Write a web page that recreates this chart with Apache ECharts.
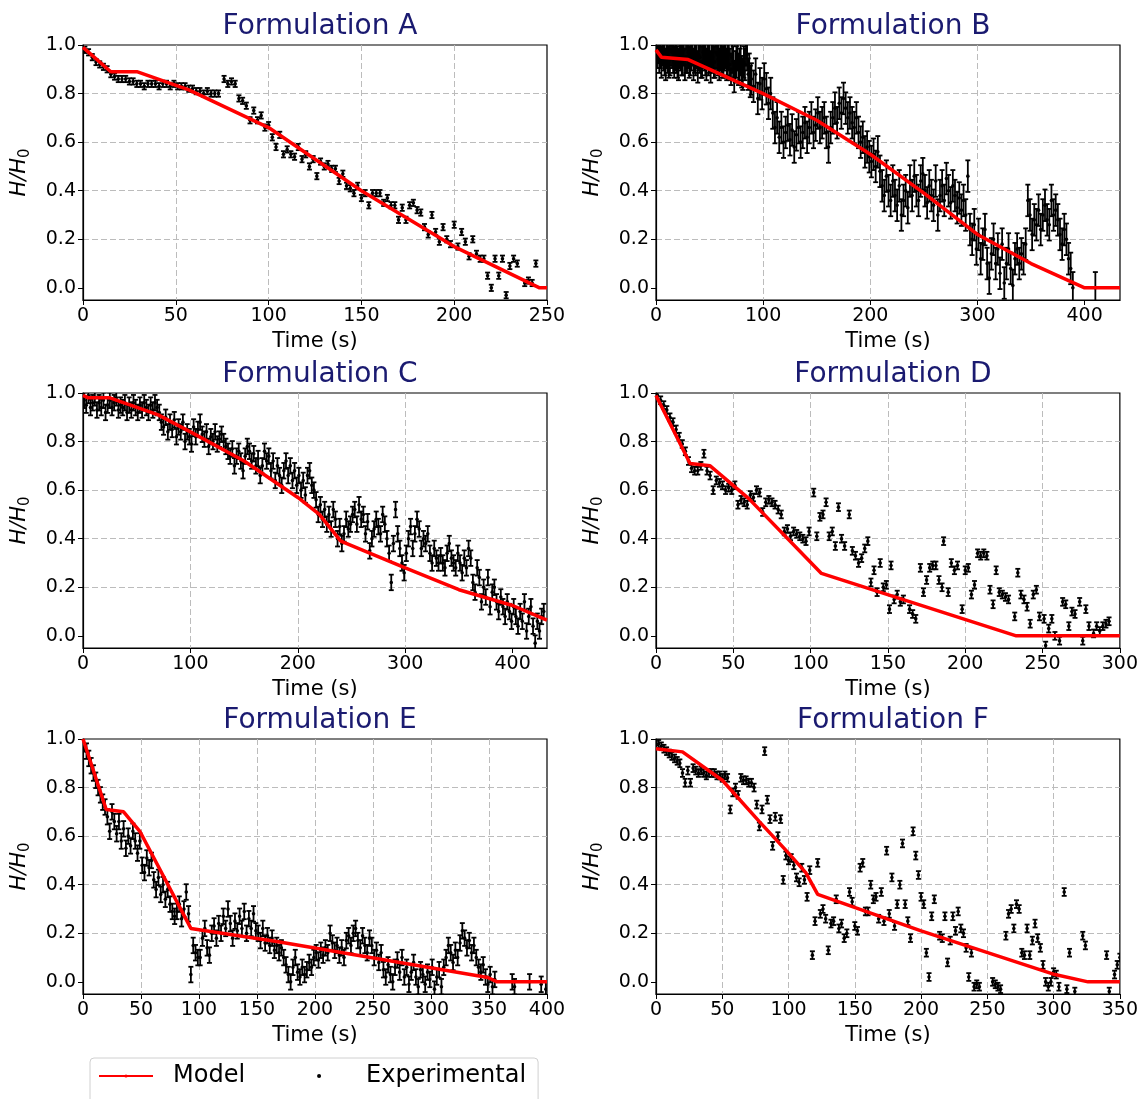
<!DOCTYPE html>
<html>
<head>
<meta charset="utf-8">
<script src="https://cdn.jsdelivr.net/npm/echarts@6/dist/echarts.min.js"></script>
<style>
  html, body { margin: 0; padding: 0; background: #fff; }
  #chart { width: 1141px; height: 1099px; }
</style>
</head>
<body>
<div id="chart"></div>
<script>
// panel titles
const titles = ['Formulation A', 'Formulation B', 'Formulation C', 'Formulation D', 'Formulation E', 'Formulation F']

// x axis range + tick labels for each panel
const xMaxes = [250, 433, 432, 300, 400, 350]
const xTicksA = [0, 50, 100, 150, 200, 250]
const xTicksB = [0, 100, 200, 300, 400]
const xTicksC = [0, 100, 200, 300, 400]
const xTicksD = [0, 50, 100, 150, 200, 250, 300]
const xTicksE = [0, 50, 100, 150, 200, 250, 300, 350, 400]
const xTicksF = [0, 50, 100, 150, 200, 250, 300, 350]
const yTicks = [0, 0.2, 0.4, 0.6, 0.8, 1.0]

// half length of error bars (H/H0) per panel
const errHalf = [0.013, 0.065, 0.032, 0.016, 0.032, 0.016]

// model curves [t, H/H0]
const modelA = [[0, 0.99], [15, 0.89], [29, 0.89], [57, 0.815], [100, 0.66], [150, 0.40], [200, 0.17], [246, 0.0], [250, 0.0]]
const modelB = [[0, 0.98], [5, 0.95], [30, 0.94], [60, 0.88], [100, 0.80], [150, 0.69], [200, 0.55], [250, 0.39], [300, 0.22], [350, 0.10], [400, 0.0], [433, 0.0]]
const modelC = [[0, 0.99], [5, 0.98], [25, 0.98], [70, 0.91], [100, 0.84], [150, 0.72], [200, 0.57], [220, 0.50], [240, 0.39], [300, 0.28], [350, 0.19], [400, 0.125], [432, 0.065]]
const modelD = [[0, 0.99], [22, 0.71], [35, 0.70], [60, 0.565], [107, 0.257], [233, 0.0], [300, 0.0]]
const modelE = [[0, 1.0], [20, 0.71], [35, 0.70], [49, 0.62], [93, 0.22], [167, 0.166], [349, 0.018], [357, 0.0], [400, 0.0]]
const modelF = [[0, 0.96], [20, 0.947], [50, 0.83], [78, 0.66], [100, 0.53], [113, 0.45], [122, 0.36], [200, 0.21], [301, 0.03], [326, 0.0], [350, 0.0]]

// experimental points [t, H/H0]
const expA = [[1,0.98],[3,0.97],[5,0.95],[7,0.93],[9,0.92],[11,0.91],[13,0.90],[15,0.88],[17,0.87],[19,0.86],[21,0.86],[23,0.86],[25,0.85],[27,0.85],[29,0.84],[31,0.84],[33,0.83],[35,0.84],[37,0.84],[39,0.84],[41,0.83],[43,0.84],[45,0.84],[47,0.83],[49,0.84],[51,0.83],[53,0.83],[55,0.83],[57,0.82],[59,0.82],[61,0.81],[63,0.81],[65,0.80],[67,0.81],[69,0.80],[71,0.80],[73,0.80],[76,0.86],[78,0.84],[80,0.85],[82,0.84],[84,0.78],[86,0.77],[88,0.75],[90,0.69],[92,0.73],[94,0.69],[96,0.71],[98,0.66],[100,0.67],[102,0.62],[104,0.58],[106,0.63],[108,0.55],[110,0.57],[112,0.55],[114,0.54],[116,0.58],[118,0.53],[120,0.55],[122,0.50],[124,0.53],[126,0.46],[128,0.52],[130,0.50],[132,0.51],[134,0.49],[136,0.49],[138,0.44],[140,0.47],[142,0.42],[144,0.41],[146,0.39],[148,0.42],[150,0.37],[152,0.39],[154,0.34],[156,0.39],[158,0.39],[160,0.39],[162,0.35],[164,0.37],[166,0.34],[168,0.34],[170,0.28],[172,0.33],[174,0.28],[176,0.34],[178,0.35],[180,0.32],[182,0.31],[184,0.25],[186,0.22],[188,0.30],[190,0.23],[192,0.19],[194,0.25],[196,0.20],[198,0.18],[200,0.26],[202,0.17],[204,0.23],[206,0.19],[208,0.13],[210,0.20],[212,0.14],[214,0.12],[216,0.12],[218,0.05],[220,0.00],[222,0.12],[224,0.05],[226,0.12],[228,-0.03],[230,0.09],[232,0.12],[234,0.10],[238,0.02],[240,0.03],[242,0.02],[244,0.10]]
const expB = [[1,0.97],[2,0.99],[3,0.95],[4,0.97],[5,0.93],[6,0.98],[7,0.96],[8,0.94],[9,0.92],[10,0.97],[11,0.95],[12,0.93],[13,0.94],[14,0.98],[15,0.97],[16,0.95],[17,0.93],[18,0.96],[19,0.95],[20,0.93],[21,0.92],[22,0.97],[23,0.96],[24,0.94],[25,0.94],[26,0.98],[27,0.92],[28,0.95],[29,0.95],[30,0.97],[31,0.93],[32,0.94],[33,0.96],[34,0.98],[35,0.92],[36,0.95],[37,0.94],[38,0.97],[39,0.91],[40,0.96],[41,0.95],[42,0.93],[43,0.93],[44,0.97],[45,0.96],[46,0.94],[47,0.92],[48,0.97],[49,0.94],[50,0.95],[51,0.91],[52,0.96],[53,0.95],[54,0.93],[55,0.93],[56,0.97],[57,0.96],[58,0.94],[59,0.92],[60,0.96],[61,0.95],[62,0.93],[63,0.93],[64,0.96],[65,0.97],[66,0.92],[67,0.94],[68,0.96],[69,0.92],[70,0.90],[71,0.95],[72,0.93],[73,0.87],[74,0.91],[75,0.93],[76,0.96],[77,0.90],[78,0.92],[79,0.94],[80,0.89],[81,0.88],[82,0.93],[83,0.92],[84,0.98],[85,0.96],[86,0.88],[87,0.90],[88,0.85],[89,0.86],[91,0.83],[93,0.88],[95,0.78],[97,0.84],[99,0.80],[101,0.86],[103,0.82],[105,0.76],[107,0.80],[109,0.72],[111,0.66],[113,0.70],[115,0.62],[117,0.66],[119,0.60],[121,0.64],[123,0.67],[125,0.61],[127,0.65],[129,0.58],[131,0.63],[133,0.66],[135,0.60],[137,0.64],[139,0.68],[141,0.62],[143,0.66],[145,0.70],[147,0.64],[149,0.67],[151,0.72],[153,0.66],[155,0.68],[157,0.70],[159,0.64],[161,0.58],[163,0.66],[165,0.70],[167,0.74],[169,0.68],[171,0.76],[173,0.72],[175,0.78],[177,0.74],[179,0.70],[181,0.72],[183,0.68],[185,0.66],[187,0.70],[189,0.64],[191,0.60],[193,0.62],[195,0.56],[197,0.58],[199,0.54],[201,0.52],[203,0.55],[205,0.50],[207,0.56],[209,0.48],[211,0.42],[213,0.38],[215,0.46],[217,0.40],[219,0.36],[221,0.44],[223,0.38],[225,0.34],[227,0.42],[229,0.30],[231,0.36],[233,0.40],[235,0.33],[237,0.44],[239,0.38],[241,0.46],[243,0.40],[245,0.36],[247,0.44],[249,0.47],[251,0.40],[253,0.35],[255,0.42],[257,0.38],[259,0.34],[261,0.44],[263,0.30],[265,0.38],[267,0.42],[269,0.36],[271,0.45],[273,0.40],[275,0.35],[277,0.42],[279,0.38],[281,0.33],[283,0.37],[285,0.32],[287,0.36],[289,0.30],[291,0.46],[293,0.24],[295,0.20],[297,0.26],[299,0.16],[301,0.22],[303,0.12],[305,0.18],[307,0.24],[309,0.10],[311,0.04],[313,0.14],[315,0.20],[317,0.10],[319,0.16],[321,0.06],[323,0.18],[325,0.02],[327,0.10],[329,0.16],[331,0.08],[333,0.01],[335,0.12],[337,0.16],[339,0.10],[341,0.14],[343,0.12],[345,0.18],[347,0.36],[349,0.30],[351,0.22],[353,0.28],[355,0.26],[357,0.32],[359,0.24],[361,0.30],[363,0.34],[365,0.28],[367,0.26],[369,0.36],[371,0.30],[373,0.32],[375,0.28],[377,0.22],[379,0.18],[381,0.24],[383,0.20],[385,0.12],[387,0.08],[389,0.0],[410,0.0]]
const expC = [[1,0.97],[3,0.95],[5,0.99],[7,0.94],[9,0.96],[11,0.98],[13,0.93],[15,0.96],[17,0.94],[19,0.97],[21,0.92],[23,0.95],[25,0.97],[27,0.94],[29,0.96],[31,0.98],[33,0.93],[35,0.95],[37,0.94],[39,0.96],[41,0.92],[43,0.95],[45,0.93],[47,0.96],[49,0.94],[51,0.92],[53,0.95],[55,0.93],[57,0.96],[59,0.94],[61,0.92],[63,0.95],[65,0.93],[67,0.96],[69,0.94],[71,0.92],[73,0.88],[75,0.86],[77,0.90],[79,0.84],[81,0.88],[83,0.85],[85,0.89],[87,0.82],[89,0.86],[91,0.84],[93,0.88],[95,0.80],[97,0.84],[99,0.82],[101,0.79],[103,0.86],[105,0.82],[107,0.85],[109,0.88],[111,0.83],[113,0.81],[115,0.84],[117,0.78],[119,0.82],[121,0.80],[123,0.84],[125,0.79],[127,0.81],[129,0.83],[131,0.80],[133,0.78],[135,0.76],[137,0.74],[139,0.77],[141,0.70],[143,0.74],[145,0.76],[147,0.72],[149,0.68],[151,0.74],[153,0.78],[155,0.76],[157,0.72],[159,0.75],[161,0.70],[163,0.73],[165,0.66],[167,0.70],[169,0.76],[171,0.72],[173,0.74],[175,0.68],[177,0.72],[179,0.64],[181,0.70],[183,0.66],[185,0.62],[187,0.68],[189,0.72],[191,0.66],[193,0.70],[195,0.64],[197,0.68],[199,0.62],[201,0.66],[203,0.60],[205,0.64],[207,0.58],[209,0.66],[211,0.68],[213,0.62],[215,0.60],[217,0.56],[219,0.50],[221,0.54],[223,0.48],[225,0.52],[227,0.46],[229,0.50],[231,0.44],[233,0.52],[235,0.48],[237,0.40],[239,0.45],[241,0.38],[243,0.42],[245,0.48],[247,0.44],[249,0.46],[251,0.50],[253,0.52],[255,0.46],[257,0.54],[259,0.48],[261,0.50],[263,0.42],[265,0.47],[267,0.35],[269,0.40],[271,0.44],[273,0.48],[275,0.45],[277,0.42],[279,0.50],[281,0.46],[283,0.40],[285,0.34],[287,0.22],[289,0.38],[291,0.52],[293,0.42],[295,0.36],[297,0.30],[299,0.26],[301,0.34],[303,0.40],[305,0.45],[307,0.36],[309,0.42],[311,0.48],[313,0.44],[315,0.36],[317,0.40],[319,0.38],[321,0.42],[323,0.34],[325,0.30],[327,0.36],[329,0.32],[331,0.30],[333,0.33],[335,0.30],[337,0.28],[339,0.34],[341,0.38],[343,0.32],[345,0.30],[347,0.28],[349,0.34],[351,0.30],[353,0.26],[355,0.32],[357,0.28],[359,0.36],[361,0.32],[363,0.22],[365,0.18],[367,0.28],[369,0.24],[371,0.14],[373,0.20],[375,0.16],[377,0.24],[379,0.12],[381,0.18],[383,0.20],[385,0.14],[387,0.10],[389,0.16],[391,0.12],[393,0.08],[395,0.14],[397,0.10],[399,0.06],[401,0.12],[403,0.08],[405,0.04],[407,0.10],[409,0.06],[411,0.14],[413,0.02],[415,0.08],[417,0.12],[419,0.04],[421,-0.03],[423,0.06],[425,0.02],[427,0.08],[429,0.10]]
const expD = [[1,0.99],[3,0.97],[5,0.95],[7,0.93],[9,0.90],[11,0.88],[13,0.85],[15,0.82],[17,0.79],[19,0.76],[21,0.72],[23,0.69],[25,0.68],[27,0.68],[29,0.70],[31,0.75],[33,0.68],[35,0.66],[37,0.60],[39,0.64],[41,0.63],[43,0.62],[45,0.60],[47,0.61],[49,0.60],[51,0.62],[53,0.54],[55,0.56],[57,0.55],[59,0.54],[61,0.58],[63,0.57],[65,0.60],[67,0.59],[69,0.51],[71,0.55],[73,0.56],[75,0.55],[77,0.54],[79,0.52],[81,0.50],[83,0.43],[85,0.44],[87,0.41],[89,0.43],[91,0.42],[93,0.41],[95,0.40],[97,0.39],[99,0.43],[102,0.59],[104,0.41],[106,0.49],[108,0.50],[110,0.55],[112,0.41],[114,0.43],[116,0.37],[118,0.53],[120,0.40],[122,0.37],[125,0.50],[127,0.35],[129,0.33],[131,0.30],[133,0.32],[135,0.36],[137,0.39],[139,0.22],[141,0.27],[143,0.18],[145,0.30],[147,0.20],[149,0.21],[151,0.11],[152,0.29],[154,0.15],[156,0.17],[158,0.14],[160,0.15],[164,0.11],[166,0.09],[168,0.07],[171,0.28],[173,0.18],[175,0.23],[177,0.28],[179,0.29],[181,0.29],[183,0.23],[185,0.20],[186,0.39],[189,0.18],[191,0.30],[193,0.27],[195,0.29],[198,0.11],[200,0.27],[202,0.28],[204,0.17],[206,0.21],[208,0.34],[210,0.33],[212,0.34],[214,0.33],[216,0.19],[218,0.13],[220,0.27],[222,0.18],[224,0.17],[226,0.16],[228,0.15],[232,0.08],[234,0.26],[236,0.17],[238,0.15],[240,0.12],[242,0.05],[244,0.17],[246,0.19],[248,0.08],[251,0.07],[252,-0.04],[254,0.03],[256,0.07],[258,0.00],[261,-0.02],[263,0.14],[265,0.13],[267,0.04],[269,0.10],[271,0.09],[274,0.14],[276,-0.02],[278,0.11],[280,0.04],[283,0.01],[285,0.04],[287,0.02],[289,0.04],[291,0.05],[293,0.06]]
const expE = [[1,0.98],[3,0.95],[5,0.92],[7,0.89],[9,0.86],[11,0.83],[13,0.80],[15,0.77],[17,0.74],[19,0.72],[21,0.68],[23,0.62],[25,0.70],[27,0.66],[29,0.61],[31,0.66],[33,0.58],[35,0.63],[37,0.55],[39,0.60],[41,0.56],[43,0.62],[45,0.58],[47,0.53],[49,0.58],[51,0.48],[53,0.45],[55,0.51],[57,0.47],[59,0.50],[61,0.42],[63,0.38],[65,0.43],[67,0.36],[69,0.40],[71,0.34],[73,0.38],[75,0.32],[77,0.29],[79,0.27],[81,0.29],[83,0.32],[85,0.26],[87,0.30],[89,0.37],[91,0.28],[93,0.03],[95,0.15],[97,0.12],[99,0.10],[101,0.10],[103,0.18],[105,0.22],[107,0.14],[109,0.11],[111,0.20],[113,0.23],[115,0.18],[117,0.24],[119,0.20],[121,0.27],[123,0.22],[125,0.30],[127,0.24],[129,0.18],[131,0.25],[133,0.21],[135,0.27],[137,0.22],[139,0.29],[141,0.20],[143,0.26],[145,0.22],[147,0.28],[149,0.21],[151,0.20],[153,0.17],[155,0.22],[157,0.16],[159,0.19],[161,0.15],[163,0.18],[165,0.13],[167,0.15],[169,0.12],[171,0.14],[173,0.10],[175,0.07],[177,0.03],[179,0.00],[181,0.06],[183,0.10],[185,0.04],[187,0.02],[189,0.06],[191,0.03],[193,0.05],[195,0.08],[197,0.06],[199,0.10],[201,0.12],[203,0.09],[205,0.13],[207,0.11],[209,0.14],[211,0.12],[213,0.20],[215,0.16],[217,0.13],[219,0.15],[221,0.11],[223,0.14],[225,0.10],[227,0.17],[229,0.19],[231,0.15],[233,0.20],[235,0.22],[237,0.17],[239,0.14],[241,0.19],[243,0.15],[245,0.12],[247,0.18],[249,0.15],[251,0.10],[253,0.13],[255,0.08],[257,0.12],[259,0.05],[261,0.02],[263,0.07],[265,0.03],[267,0.00],[269,0.06],[271,0.09],[273,0.04],[275,0.10],[277,0.02],[279,0.06],[281,-0.01],[283,0.04],[285,0.08],[287,0.02],[289,-0.02],[291,0.05],[293,0.03],[295,-0.01],[297,0.04],[299,0.01],[301,0.06],[303,-0.03],[305,0.02],[307,0.05],[309,-0.02],[311,0.06],[313,0.10],[315,0.15],[317,0.12],[319,0.08],[321,0.13],[323,0.10],[325,0.16],[327,0.21],[329,0.18],[331,0.14],[333,0.17],[335,0.12],[337,0.15],[339,0.10],[341,0.06],[343,0.04],[345,0.07],[347,0.02],[349,-0.01],[351,0.03],[353,-0.02],[355,0.01],[370,0.0],[372,-0.02],[385,0.0],[395,-0.01],[399,-0.03]]
const expF = [[0,0.99],[2,0.98],[4,0.97],[6,0.96],[8,0.95],[10,0.94],[12,0.93],[14,0.92],[16,0.91],[18,0.90],[20,0.86],[22,0.82],[24,0.87],[26,0.82],[28,0.88],[30,0.87],[32,0.86],[34,0.87],[36,0.86],[38,0.85],[40,0.86],[42,0.86],[44,0.86],[46,0.85],[48,0.85],[50,0.84],[52,0.85],[54,0.84],[56,0.71],[58,0.78],[60,0.80],[62,0.77],[64,0.84],[66,0.83],[68,0.83],[70,0.82],[72,0.82],[74,0.80],[76,0.73],[78,0.64],[80,0.71],[82,0.95],[84,0.75],[86,0.67],[88,0.56],[90,0.68],[92,0.60],[94,0.67],[96,0.42],[98,0.52],[100,0.50],[102,0.51],[104,0.48],[106,0.43],[108,0.41],[110,0.47],[112,0.42],[114,0.35],[116,0.46],[118,0.11],[120,0.25],[122,0.49],[124,0.28],[126,0.30],[128,0.26],[130,0.13],[132,0.24],[134,0.25],[136,0.34],[138,0.22],[140,0.24],[142,0.18],[144,0.20],[146,0.37],[148,0.33],[150,0.23],[152,0.21],[154,0.47],[156,0.49],[158,0.29],[160,0.29],[162,0.40],[164,0.34],[166,0.35],[168,0.26],[170,0.37],[172,0.25],[174,0.54],[176,0.28],[178,0.43],[180,0.23],[182,0.32],[184,0.40],[186,0.57],[188,0.32],[190,0.25],[192,0.18],[194,0.62],[196,0.52],[198,0.44],[200,0.35],[202,0.32],[204,0.12],[206,0.02],[208,0.27],[210,0.34],[214,0.19],[216,0.18],[218,0.27],[220,0.08],[222,0.17],[224,0.27],[226,0.21],[228,0.29],[230,0.22],[232,0.20],[234,0.14],[236,0.02],[238,0.12],[240,-0.02],[242,-0.01],[244,-0.02],[254,0.0],[256,-0.01],[258,-0.02],[260,-0.03],[264,0.19],[266,0.28],[268,0.30],[270,0.22],[272,0.32],[274,0.30],[276,0.12],[278,0.11],[280,0.22],[282,0.11],[284,0.17],[286,0.24],[288,0.18],[290,0.14],[292,0.07],[294,0.0],[296,-0.02],[298,0.0],[300,0.04],[302,0.03],[304,-0.02],[308,0.37],[310,-0.03],[312,0.12],[316,-0.04],[322,0.19],[324,0.15],[340,0.11],[342,-0.04],[346,0.03],[348,0.07],[350,0.10]]

const xTicksAll = [xTicksA, xTicksB, xTicksC, xTicksD, xTicksE, xTicksF]
const modelAll = [modelA, modelB, modelC, modelD, modelE, modelF]
const expAll = [expA, expB, expC, expD, expE, expF]

// layout of the 3x2 panels (pixels)
const colLeft = [83, 656]
const rowTop = [45, 393, 739]
const plotW = 464
const plotH = 255
const FONT = 'DejaVu Sans'

const chart = echarts.init(document.getElementById('chart'))

// error bar with small caps and a dot at the value
function renderErrorBar(params, api) {
  const t = api.value(0)
  const h = api.value(1)
  const e = api.value(2)
  const hi = api.coord([t, h + e])
  const lo = api.coord([t, h - e])
  const c = api.coord([t, h])
  const st = { stroke: '#000', lineWidth: 1.8 }
  return {
    type: 'group',
    children: [
      { type: 'line', shape: { x1: hi[0], y1: hi[1], x2: lo[0], y2: lo[1] }, style: st },
      { type: 'line', shape: { x1: hi[0] - 2.5, y1: hi[1], x2: hi[0] + 2.5, y2: hi[1] }, style: st },
      { type: 'line', shape: { x1: lo[0] - 2.5, y1: lo[1], x2: lo[0] + 2.5, y2: lo[1] }, style: st },
      { type: 'circle', shape: { cx: c[0], cy: c[1], r: 1.8 }, style: { fill: '#000' } }
    ]
  }
}

const grids = [], xAxes = [], yAxes = [], series = [], titleList = []

titles.forEach((name, i) => {
  const left = colLeft[i % 2]
  const top = rowTop[Math.floor(i / 2)]
  grids.push({
    left: left, top: top, width: plotW, height: plotH,
    show: true, borderColor: '#000', borderWidth: 1.2, backgroundColor: '#fff'
  })
  titleList.push({
    text: name,
    left: left + plotW / 2, top: top - 37, textAlign: 'center',
    textStyle: { fontFamily: FONT, fontSize: 28, fontWeight: 'normal', color: '#1a1a70' }
  })
  xAxes.push({
    type: 'value', gridIndex: i, min: 0, max: xMaxes[i],
    name: 'Time (s)', nameLocation: 'middle', nameGap: 31,
    nameTextStyle: { fontFamily: FONT, fontSize: 21, color: '#000' },
    axisLine: { show: true, onZero: false, lineStyle: { color: '#000', width: 1.2 } },
    axisTick: { show: true, length: 5, customValues: xTicksAll[i], lineStyle: { color: '#000' } },
    axisLabel: { customValues: xTicksAll[i], fontFamily: FONT, fontSize: 19, color: '#000', margin: 7 },
    splitLine: { show: true, showMinLine: false, showMaxLine: false, lineStyle: { color: '#bcbcbc', type: [6, 3], width: 1 } }
  })
  yAxes.push({
    type: 'value', gridIndex: i, min: -0.05, max: 1.0,
    name: '{i|H/H}{s|0}', nameLocation: 'middle', nameGap: 50, nameRotate: 90,
    nameTextStyle: {
      color: '#000',
      rich: {
        i: { fontFamily: FONT, fontSize: 21, fontStyle: 'italic', color: '#000' },
        s: { fontFamily: FONT, fontSize: 15, color: '#000', padding: [12, 0, 0, 0] }
      }
    },
    axisLine: { show: true, lineStyle: { color: '#000', width: 1.2 } },
    axisTick: { show: true, length: 5, customValues: yTicks, lineStyle: { color: '#000' } },
    axisLabel: {
      customValues: yTicks, fontFamily: FONT, fontSize: 19, color: '#000', margin: 7,
      formatter: v => v.toFixed(1)
    },
    splitLine: { show: true, showMinLine: false, showMaxLine: false, lineStyle: { color: '#bcbcbc', type: [6, 3], width: 1 } }
  })
  series.push({
    name: 'Experimental', type: 'custom', xAxisIndex: i, yAxisIndex: i,
    clip: true, z: 2,
    itemStyle: { color: '#000' },
    renderItem: renderErrorBar,
    data: expAll[i].map(p => [p[0], p[1], errHalf[i]])
  })
  series.push({
    name: 'Model', type: 'line', xAxisIndex: i, yAxisIndex: i,
    symbol: 'none', z: 3, silent: true,
    lineStyle: { color: '#ff0000', width: 3.5 },
    itemStyle: { color: '#ff0000' },
    data: modelAll[i]
  })
})

chart.setOption({
  animation: false,
  backgroundColor: '#fff',
  title: titleList,
  grid: grids,
  xAxis: xAxes,
  yAxis: yAxes,
  legend: {
    left: 90, top: 1058,
    padding: [6, 12, 16, 8],
    itemWidth: 54, itemHeight: 4, itemGap: 72,
    borderColor: '#d0d0d0', borderWidth: 1, borderRadius: 4,
    backgroundColor: '#fff',
    textStyle: { fontFamily: FONT, fontSize: 24, color: '#000', padding: [0, 0, 0, 15] },
    data: [
      { name: 'Model' },
      { name: 'Experimental', icon: 'circle' }
    ]
  },
  series: series
})
</script>
</body>
</html>
